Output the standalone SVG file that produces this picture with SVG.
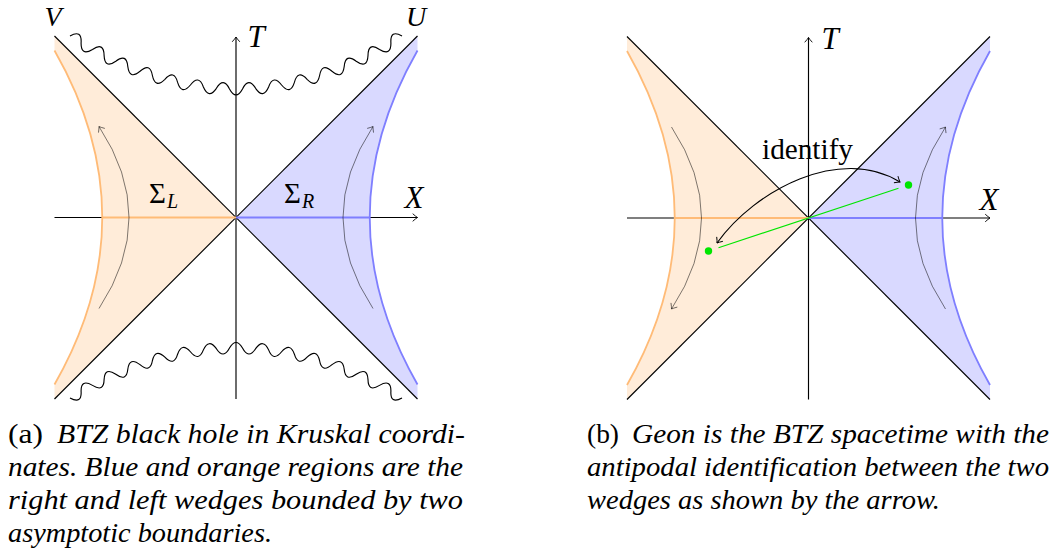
<svg xmlns="http://www.w3.org/2000/svg" width="1055" height="556" viewBox="0 0 1055 556">
<style>
.bg{fill:#fff}
.ofill{fill:#ffecd9;stroke:none}
.bfill{fill:#d9d9ff;stroke:none}
.ostroke{fill:none;stroke:#ffbb77;stroke-width:1.8}
.bstroke{fill:none;stroke:#7f7fff;stroke-width:1.8}
.line{fill:none;stroke:#000;stroke-width:1.15}
.flow{fill:none;stroke:#000;stroke-opacity:0.6;stroke-width:0.85}
.snake{fill:none;stroke:#000;stroke-width:1.15}
.green{fill:none;stroke:#00e600;stroke-width:1.2}
.gdot{fill:#00e600}
text{font-family:'Liberation Serif','DejaVu Serif',serif;fill:#000}
.lbl{font-size:31px;font-style:italic}
.lbls{font-size:28px;font-style:italic}
.up{font-size:29px}
.sub{font-size:20px;font-style:italic}
.cap{font-size:27px}
.capi{font-size:27px;font-style:italic}
</style>
<defs>
<marker id="arr" viewBox="-6 -5 8 10" refX="0" refY="0" markerWidth="8" markerHeight="10" markerUnits="userSpaceOnUse" orient="auto-start-reverse">
<path d="M-4.8,-3.8 Q-1.7,-1 0,0 Q-1.7,1 -4.8,3.8" fill="none" stroke="#000" stroke-width="0.9"/>
</marker>
<marker id="arrg" viewBox="-6 -5 8 10" refX="0" refY="0" markerWidth="8" markerHeight="10" markerUnits="userSpaceOnUse" orient="auto-start-reverse">
<path d="M-4.8,-3.8 Q-1.7,-1 0,0 Q-1.7,1 -4.8,3.8" fill="none" stroke="#000" stroke-opacity="0.6" stroke-width="0.85"/>
</marker>
<path id="snakeTop" d="M70,36 Q81.9,29.2 81.1,42.9 Q80.8,56.5 92.5,49.4 Q103.9,41.8 104.1,55.5 Q104.7,69.2 115.8,61.2 Q126.6,52.9 127.8,66.5 Q129.5,80 140,71.3 Q150.1,62.1 152.4,75.5 Q155.2,88.9 164.9,79.3 Q174.2,69.2 177.6,82.4 Q181.7,95.5 190.4,85 Q198.7,74.1 203.4,87 Q208.7,99.5 216.4,88.3 Q223.5,76.6 229.5,88.9 Q236,100.9 242.5,88.9 Q248.5,76.6 255.6,88.3 Q263.3,99.5 268.6,87 Q273.3,74.1 281.6,85 Q290.3,95.5 294.4,82.4 Q297.8,69.2 307.1,79.3 Q316.8,88.9 319.6,75.5 Q321.9,62.1 332,71.3 Q342.5,80 344.2,66.5 Q345.4,52.9 356.2,61.2 Q367.3,69.2 368,55.5 Q368.1,41.8 379.5,49.4 Q391.2,56.5 390.9,42.9 Q390.1,29.2 402,36"/>
</defs>
<rect class="bg" x="0" y="0" width="1055" height="556"/>

<!-- Panel (a) -->
<g id="panel-a">
  <g id="a-regions" transform="translate(236,217.5)">
    <path id="a-left-wedge" class="ofill" d="M-181.5,-181.5 L0,0 L-181.5,181.5 L-181.5,167 Q-86,0 -181.5,-167 Z"/>
    <path id="a-right-wedge" class="bfill" d="M181.5,-181.5 L0,0 L181.5,181.5 L181.5,167 Q86,0 181.5,-167 Z"/>
  </g>
  <g id="a-connectors" transform="translate(236,217.5)">
    <line class="line" x1="-181.5" y1="-181.5" x2="181.5" y2="181.5"/>
    <line class="line" x1="-181.5" y1="181.5" x2="181.5" y2="-181.5"/>
    <line class="line" x1="-181.5" y1="0" x2="181.5" y2="0" marker-end="url(#arr)"/>
    <line class="line" x1="0" y1="181.5" x2="0" y2="-180.5" marker-end="url(#arr)"/>
    <path class="ostroke" d="M-181.5,-167 Q-86,0 -181.5,167"/>
    <path class="bstroke" d="M181.5,-167 Q86,0 181.5,167"/>
    <line class="ostroke" x1="-134" y1="0" x2="0" y2="0"/>
    <line class="bstroke" x1="0" y1="0" x2="134" y2="0"/>
    <path class="flow" d="M-137,91 Q-77,0 -137,-91" marker-end="url(#arrg)"/>
    <path class="flow" d="M137,91 Q77,0 137,-91" marker-end="url(#arrg)"/>
  </g>
  <g id="a-singularities">
    <use href="#snakeTop" class="snake"/>
    <use href="#snakeTop" class="snake" transform="matrix(1 0 0 -0.9434 0 431.96)"/>
  </g>
  <g id="a-labels">
    <text class="lbls" x="53" y="26" text-anchor="middle">V</text>
    <text class="lbls" x="416" y="26" text-anchor="middle">U</text>
    <text class="lbl" x="256" y="47" text-anchor="middle">T</text>
    <text class="lbl" x="414" y="208" text-anchor="middle">X</text>
    <text class="up" x="149" y="203">Σ<tspan class="sub" dx="1" dy="5">L</tspan></text>
    <text class="up" x="284" y="203">Σ<tspan class="sub" dx="1" dy="5">R</tspan></text>
  </g>
</g>

<!-- Panel (b) -->
<g id="panel-b">
  <g id="b-regions" transform="translate(808.5,218)">
    <path id="b-left-wedge" class="ofill" d="M-181.5,-181.5 L0,0 L-181.5,181.5 L-181.5,167 Q-86,0 -181.5,-167 Z"/>
    <path id="b-right-wedge" class="bfill" d="M181.5,-181.5 L0,0 L181.5,181.5 L181.5,167 Q86,0 181.5,-167 Z"/>
  </g>
  <g id="b-connectors" transform="translate(808.5,218)">
    <line class="line" x1="-181.5" y1="-181.5" x2="181.5" y2="181.5"/>
    <line class="line" x1="-181.5" y1="181.5" x2="181.5" y2="-181.5"/>
    <line class="line" x1="-181.5" y1="0" x2="181.5" y2="0" marker-end="url(#arr)"/>
    <line class="line" x1="0" y1="181.5" x2="0" y2="-180.5" marker-end="url(#arr)"/>
    <path class="ostroke" d="M-181.5,-167 Q-86,0 -181.5,167"/>
    <path class="bstroke" d="M181.5,-167 Q86,0 181.5,167"/>
    <line class="ostroke" x1="-134" y1="0" x2="0" y2="0"/>
    <line class="bstroke" x1="0" y1="0" x2="134" y2="0"/>
    <path class="flow" d="M-137,-91 Q-77,0 -137,91" marker-end="url(#arrg)"/>
    <path class="flow" d="M137,91 Q77,0 137,-91" marker-end="url(#arrg)"/>
    <line class="green" x1="-90" y1="29.7" x2="90" y2="-29.7"/>
  </g>
  <g id="b-points" transform="translate(808.5,218)">
    <circle class="gdot" cx="-100" cy="33" r="3.7"/>
    <circle class="gdot" cx="100" cy="-33" r="3.7"/>
  </g>
  <g id="b-identify-arrow">
    <path class="line" d="M717,243 C755,190 840,145 900,182" marker-start="url(#arr)" marker-end="url(#arr)"/>
  </g>
  <g id="b-labels">
    <text class="lbl" x="830" y="49" text-anchor="middle">T</text>
    <text class="lbl" x="989" y="210" text-anchor="middle">X</text>
    <text class="up" x="762" y="159" textLength="91" lengthAdjust="spacingAndGlyphs">identify</text>
  </g>
</g>

<!-- Captions -->
<g id="caption-a">
  <text class="cap" x="8" y="443" textLength="35" lengthAdjust="spacingAndGlyphs">(a)</text>
  <text class="capi" x="57" y="443" textLength="408" lengthAdjust="spacingAndGlyphs">BTZ black hole in Kruskal coordi-</text>
  <text class="capi" x="8" y="476" textLength="455" lengthAdjust="spacingAndGlyphs">nates. Blue and orange regions are the</text>
  <text class="capi" x="8" y="509" textLength="455" lengthAdjust="spacingAndGlyphs">right and left wedges bounded by two</text>
  <text class="capi" x="8" y="542" textLength="264" lengthAdjust="spacingAndGlyphs">asymptotic boundaries.</text>
</g>
<g id="caption-b">
  <text class="cap" x="587" y="443" textLength="32" lengthAdjust="spacingAndGlyphs">(b)</text>
  <text class="capi" x="632" y="443" textLength="417" lengthAdjust="spacingAndGlyphs">Geon is the BTZ spacetime with the</text>
  <text class="capi" x="587" y="476" textLength="462" lengthAdjust="spacingAndGlyphs">antipodal identification between the two</text>
  <text class="capi" x="587" y="509" textLength="353" lengthAdjust="spacingAndGlyphs">wedges as shown by the arrow.</text>
</g>
</svg>
